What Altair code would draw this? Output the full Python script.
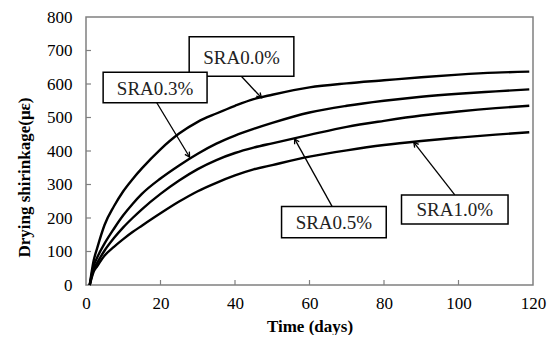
import math
import altair as alt
import pandas as pd

# ---- data ----
days = [1, 2, 3, 5, 7.5, 10, 12.5, 15, 20, 25, 30, 35, 40, 45, 50, 60, 70, 80, 90, 100, 110, 119]
sra00 = [0, 70, 110, 180, 235, 280, 316, 348, 405, 452, 487, 512, 535, 555, 568, 590, 602, 611, 620, 628, 634, 637]
sra03 = [0, 55, 82, 124, 168, 208, 242, 272, 318, 357, 392, 422, 446, 466, 484, 515, 535, 550, 562, 571, 578, 584]
sra05 = [0, 45, 66, 103, 140, 172, 200, 226, 272, 312, 346, 373, 394, 410, 423, 448, 472, 490, 506, 518, 528, 535]
sra10 = [0, 38, 56, 88, 114, 137, 158, 177, 214, 249, 280, 305, 327, 345, 358, 383, 402, 418, 430, 440, 449, 456]
series_names = ["SRA0.0%", "SRA0.3%", "SRA0.5%", "SRA1.0%"]

x_ticks = [0, 20, 40, 60, 80, 100, 120]
y_ticks = [0, 100, 200, 300, 400, 500, 600, 700, 800]

# annotation boxes and arrows (data coordinates)
box_labels = ["SRA0.0%", "SRA0.3%", "SRA0.5%", "SRA1.0%"]
box_x1 = [27.7, 4.6, 52.5, 84.7]
box_x2 = [55.8, 32.5, 80.6, 113.3]
box_y1 = [623, 544, 141, 182]
box_y2 = [741, 635, 234, 269]
arrow_x1 = [41.7, 19.0, 66.1, 99.0]
arrow_y1 = [623, 544, 234, 269]
arrow_x2 = [47.1, 27.8, 56.0, 88.0]
arrow_y2 = [559, 382, 436, 426]

W, H = 447, 268
XMAX, YMAX = 120, 800

rows = []
for name, vals in zip(series_names, [sra00, sra03, sra05, sra10]):
    for d, v in zip(days, vals):
        rows.append({"series": name, "day": d, "value": v})
df = pd.DataFrame(rows)

ann = pd.DataFrame({
    "label": box_labels,
    "bx1": box_x1, "bx2": box_x2, "by1": box_y1, "by2": box_y2,
    "ax1": arrow_x1, "ay1": arrow_y1, "ax2": arrow_x2, "ay2": arrow_y2,
})
ann["tx"] = (ann["bx1"] + ann["bx2"]) / 2
ann["ty"] = (ann["by1"] + ann["by2"]) / 2
angles = []
for x1, y1, x2, y2 in zip(arrow_x1, arrow_y1, arrow_x2, arrow_y2):
    dx = (x2 - x1) * W / XMAX
    dy = -(y2 - y1) * H / YMAX
    a = math.degrees(math.atan2(dx, -dy)) % 360
    angles.append(a)
ann["angle"] = angles

xs = alt.Scale(domain=[0, XMAX], nice=False)
ys = alt.Scale(domain=[0, YMAX], nice=False)

FONT = "Liberation Serif"

x_axis = alt.Axis(
    values=x_ticks, title="Time (days)", grid=False, domain=False, ticks=False,
    labelFont=FONT, labelFontSize=17, labelColor="black", labelPadding=10,
    labelOverlap=False, labelFlush=False,
    titleFont=FONT, titleFontSize=17, titleFontWeight="bold", titleColor="black",
    titleY=41, titleBaseline="middle")
y_axis = alt.Axis(
    values=y_ticks, title="Drying shirinkage(με)", grid=False, domain=False, ticks=False,
    labelFont=FONT, labelFontSize=17, labelColor="black", labelPadding=14,
    labelOverlap=False, labelFlush=False,
    titleFont=FONT, titleFontSize=17, titleFontWeight="bold", titleColor="black",
    titleX=-62, titleY=160, titleAngle=270, titleAlign="center", titleBaseline="middle")


def X(field):
    return alt.X(field, scale=xs, axis=x_axis)


def Y(field):
    return alt.Y(field, scale=ys, axis=y_axis)


lines = alt.Chart(df).mark_line(color="black", strokeWidth=2.4, interpolate="monotone").encode(
    x=X("day:Q"), y=Y("value:Q"), detail="series:N", order="day:Q")

# inward ticks
xt = pd.DataFrame({"t": x_ticks[1:-1]})
yt = pd.DataFrame({"t": y_ticks[1:-1]})
xtick_rules = alt.Chart(xt).mark_rule(color="#808080", strokeWidth=1.2).encode(
    x=X("t:Q"), y=alt.value(H), y2=alt.value(H - 5))
ytick_rules = alt.Chart(yt).mark_rule(color="#808080", strokeWidth=1.2).encode(
    y=Y("t:Q"), x=alt.value(0), x2=alt.value(5))

arrows = alt.Chart(ann).mark_rule(color="black", strokeWidth=1.3).encode(
    x=X("ax1:Q"), y=Y("ay1:Q"), x2="ax2:Q", y2="ay2:Q")
heads = alt.Chart(ann).mark_point(
    shape="M -0.55 1 L 0 0 L 0.55 1", size=90, filled=False,
    color="black", strokeWidth=1.3, opacity=1).encode(
    x=X("ax2:Q"), y=Y("ay2:Q"),
    angle=alt.Angle("angle:Q", scale=None))
boxes = alt.Chart(ann).mark_rect(fill="white", stroke="black", strokeWidth=1.5).encode(
    x=X("bx1:Q"), x2="bx2:Q", y=Y("by1:Q"), y2="by2:Q")
texts = alt.Chart(ann).mark_text(font=FONT, fontSize=19, color="#222222",
                                 baseline="middle", align="center", dy=1).encode(
    x=X("tx:Q"), y=Y("ty:Q"), text="label:N")

chart = alt.layer(lines, xtick_rules, ytick_rules, arrows, boxes, texts, heads).properties(
    width=W, height=H,
    autosize=alt.AutoSizeParams(type="none"),
    padding={"left": 78, "top": 9, "right": 14, "bottom": 50},
    background="white",
).configure_view(stroke="#808080", strokeWidth=1.5)

chart.save("out.html", embed_options={"renderer": "svg", "actions": False})
